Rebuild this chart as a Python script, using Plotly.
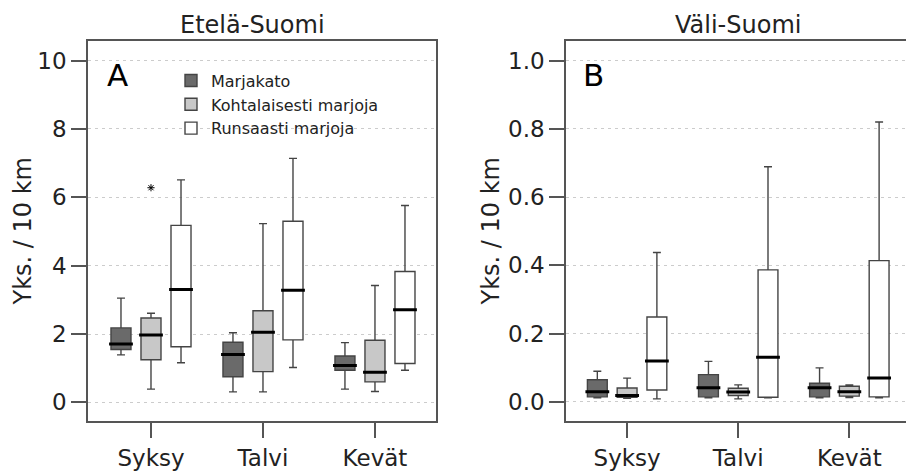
import plotly.graph_objects as go

seasons = ["Syksy", "Talvi", "Kevät"]
series_names = ["Marjakato", "Kohtalaisesti marjoja", "Runsaasti marjoja"]
series_fill = ["#6a6a6a", "#c8c8c8", "#ffffff"]

# Etelä-Suomi (A): rows = series, columns = seasons
etela_low = [[1.39, 0.31, 0.39], [0.39, 0.31, 0.32], [1.16, 1.02, 0.94]]
etela_q1 = [[1.55, 0.75, 0.94], [1.25, 0.90, 0.60], [1.63, 1.83, 1.14]]
etela_median = [[1.71, 1.40, 1.08], [1.97, 2.05, 0.88], [3.30, 3.28, 2.71]]
etela_q3 = [[2.18, 1.76, 1.36], [2.47, 2.68, 1.82], [5.18, 5.30, 3.83]]
etela_high = [[3.05, 2.04, 1.75], [2.61, 5.23, 3.42], [6.51, 7.14, 5.76]]
etela_outlier_season = ["Syksy"]
etela_outlier_value = [6.28]

# Väli-Suomi (B)
vali_low = [[0.012, 0.012, 0.012], [0.011, 0.009, 0.013], [0.009, 0.012, 0.012]]
vali_q1 = [[0.015, 0.015, 0.015], [0.014, 0.019, 0.017], [0.035, 0.014, 0.015]]
vali_median = [[0.030, 0.042, 0.042], [0.019, 0.029, 0.030], [0.120, 0.131, 0.070]]
vali_q3 = [[0.065, 0.080, 0.055], [0.041, 0.040, 0.046], [0.249, 0.387, 0.414]]
vali_high = [[0.090, 0.119, 0.100], [0.070, 0.050, 0.050], [0.438, 0.689, 0.820]]

FONT = "DejaVu Sans"
LINE = "#444444"
GAP = 0.196

fig = go.Figure()

def add_panel(low, q1, med, q3, high, xa, ya, legend):
    for i, name in enumerate(series_names):
        fig.add_trace(go.Box(
            x=seasons, lowerfence=low[i], q1=q1[i], median=med[i], q3=q3[i], upperfence=high[i],
            name=name, fillcolor=series_fill[i], line=dict(color=LINE, width=1.4),
            whiskerwidth=0.4, boxpoints=False, offsetgroup=name, alignmentgroup="g",
            xaxis=xa, yaxis=ya, showlegend=legend, legendgroup=name, hoverinfo="skip"))
    for i, name in enumerate(series_names):
        fig.add_trace(go.Scatter(
            x=seasons, y=med[i], mode="markers", offsetgroup=name, alignmentgroup="g",
            marker=dict(symbol="line-ew", size=17, color="#000000",
                        line=dict(color="#000000", width=3)),
            xaxis=xa, yaxis=ya, showlegend=False, hoverinfo="skip"))

add_panel(etela_low, etela_q1, etela_median, etela_q3, etela_high, "x", "y", True)
add_panel(vali_low, vali_q1, vali_median, vali_q3, vali_high, "x2", "y2", False)

fig.add_trace(go.Scatter(
    x=etela_outlier_season, y=etela_outlier_value, mode="markers",
    offsetgroup=series_names[1], alignmentgroup="g",
    marker=dict(symbol="asterisk-open", size=6, color="#000000",
                line=dict(color="#000000", width=1)),
    xaxis="x", yaxis="y", showlegend=False, hoverinfo="skip"))

W, H = 906, 471
ydom = [1 - 424 / H, 1 - 41 / H]

axis_common = dict(showline=True, linecolor="#555555", linewidth=1.5,
                   ticks="outside", ticklen=15, tickcolor="#555555", tickwidth=1.5,
                   tickfont=dict(family=FONT, size=23, color="#222222"))

fig.update_layout(
    width=W, height=H, margin=dict(l=0, r=0, t=0, b=0),
    paper_bgcolor="white", plot_bgcolor="white",
    boxmode="group", boxgap=GAP, boxgroupgap=0.333,
    scattermode="group", scattergap=GAP,
    font=dict(family=FONT, color="#222222"),
    xaxis=dict(domain=[88 / W, 436 / W], range=[-0.5625, 2.545], type="category",
               categoryorder="array", categoryarray=seasons, mirror=True, showgrid=False,
               **axis_common),
    yaxis=dict(domain=ydom, range=[-0.552, 10.58], tickvals=[0, 2, 4, 6, 8, 10],
               mirror=True, showgrid=True, gridcolor="#cccccc", griddash="3px,4px",
               zeroline=False, **axis_common),
    xaxis2=dict(domain=[566 / W, 1.0], range=[-0.55, 2.51], type="category",
                categoryorder="array", categoryarray=seasons, mirror=True, showgrid=False,
                anchor="y2", **axis_common),
    yaxis2=dict(domain=ydom, range=[-0.0566, 1.058], tickvals=[0, 0.2, 0.4, 0.6, 0.8, 1.0],
                tickformat=".1f", mirror=False, showgrid=True, gridcolor="#cccccc",
                griddash="3px,4px", zeroline=False, anchor="x2", **axis_common),
    legend=dict(x=171 / W, y=1 - 64 / H, xanchor="left", yanchor="top",
                bgcolor="rgba(0,0,0,0)", font=dict(family=FONT, size=16, color="#222222"),
                tracegroupgap=0, itemwidth=30),
)

for txt, xc in [("Etelä-Suomi", 253), ("Väli-Suomi", 738)]:
    fig.add_annotation(text=txt, x=xc / W, y=1 - 25 / H, xref="paper", yref="paper",
                       xanchor="center", yanchor="middle",
                       showarrow=False, font=dict(family=FONT, size=24, color="#222222"))
for xc in [23, 491]:
    fig.add_annotation(text="Yks. / 10 km", x=xc / W, y=1 - 233 / H, xref="paper", yref="paper",
                       xanchor="center", yanchor="middle",
                       textangle=-90, showarrow=False, font=dict(family=FONT, size=24, color="#222222"))
for txt, xc in [("A", 117), ("B", 593)]:
    fig.add_annotation(text=txt, x=xc / W, y=1 - 75 / H, xref="paper", yref="paper",
                       xanchor="center", yanchor="middle",
                       showarrow=False, font=dict(family=FONT, size=31, color="#000000"))

fig.write_html("out.html")
